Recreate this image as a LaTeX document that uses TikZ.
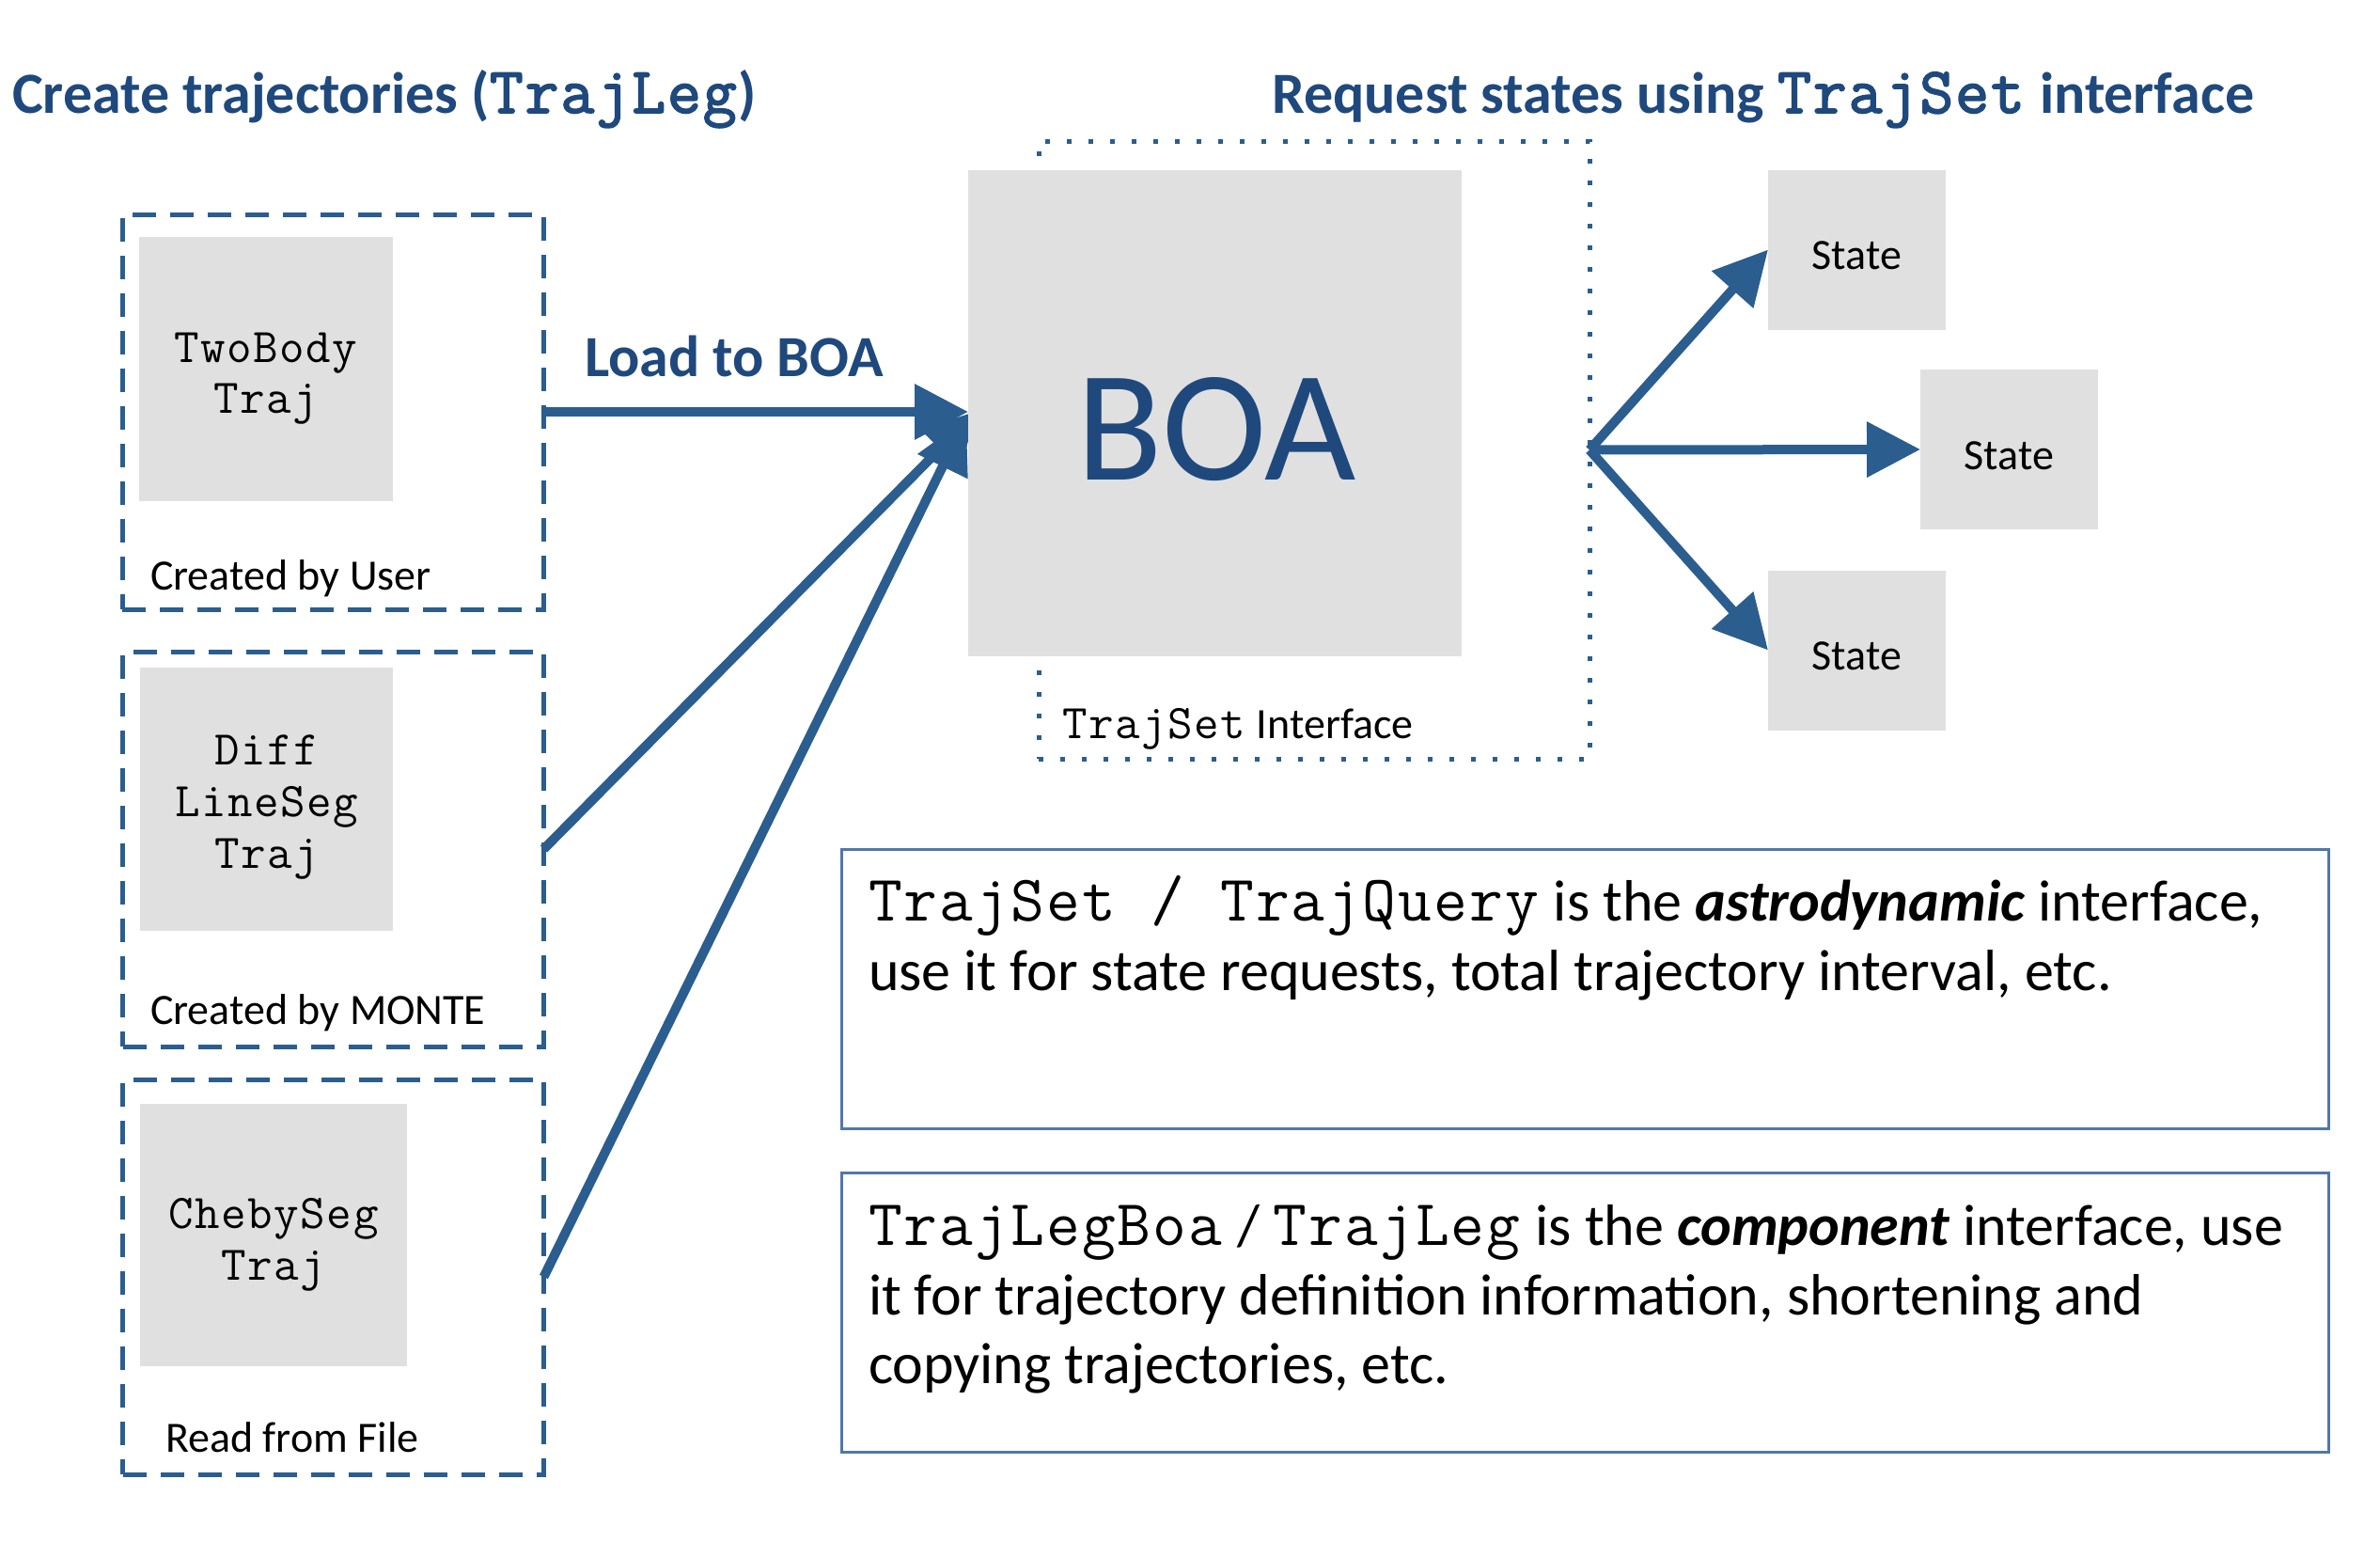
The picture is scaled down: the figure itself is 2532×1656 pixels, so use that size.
\documentclass[tikz,border=0pt]{standalone}
\usepackage{fontspec}
\setmainfont{Carlito}
\setmonofont{Latin Modern Mono}[Scale=1.12, LetterSpace=3, AutoFakeBold=2.5]
\usetikzlibrary{arrows.meta}
\definecolor{titleblue}{HTML}{1F497D}
\definecolor{linkblue}{HTML}{2B5D8F}
\definecolor{boxgray}{HTML}{E0E0E0}
\definecolor{frameblue}{HTML}{5077AC}
\pgfdeclarelayer{bg}
\pgfsetlayers{bg,main}
\newcommand{\fsz}[2]{\fontsize{#1}{#2}\selectfont}
\begin{document}
\begin{tikzpicture}[x=0.5pt,y=-0.5pt,
  every node/.style={inner sep=0pt, outer sep=0pt},
  dashbox/.style={draw=linkblue, line width=2.5pt, dash pattern=on 12.5pt off 7.5pt, minimum width=224pt, minimum height=210pt},
  dotbox/.style={draw=linkblue, line width=2.5pt, dash pattern=on 2.5pt off 9pt, minimum width=293pt, minimum height=328.5pt},
  graybox/.style={fill=boxgray},
  graytext/.style={anchor=base, font=\ttfamily\fsz{23}{27}},
  statebox/.style={fill=boxgray, minimum width=94.5pt, minimum height=85pt, font=\fsz{23}{27}, text height=21pt, text depth=0pt},
  textframe/.style={draw=frameblue, line width=1.5pt, minimum width=791pt, minimum height=148.5pt},
  heading/.style={anchor=base west, text=titleblue, font=\bfseries\fsz{31}{37}},
  caption/.style={anchor=base west, font=\fsz{23}{27}},
  body/.style={anchor=base west, font=\fsz{31}{37}},
  link/.style={draw=linkblue, line width=5pt, -{Triangle[length=28.5pt,width=28.5pt]}},
]
\useasboundingbox (0,0) rectangle (2532,1656);

% headings
\node[heading] (h1) at (13,120) {Create trajectories (\texttt{TrajLeg})};
\node[heading] (h2) at (1353,120) {Request states using \texttt{TrajSet} interface};
\node[heading] (load) at (622,400) {Load to BOA};

% left dashed groups
\node[dashbox] (box1) at (354,438) {};
\node[dashbox] (box2) at (354.5,903) {};
\node[dashbox] (box3) at (354.5,1358) {};
\node[graybox, minimum width=135pt, minimum height=140.5pt] (g1) at (283,392.5) {};
\node[graybox, minimum width=134.5pt, minimum height=140pt] (g2) at (283.5,850) {};
\node[graybox, minimum width=142pt, minimum height=139.5pt] (g3) at (291,1313.5) {};
\node[graytext] (g1a) at (283,385) {TwoBody};
\node[graytext] (g1b) at (283,439) {Traj};
\node[graytext] (g2a) at (283.5,813) {Diff};
\node[graytext] (g2b) at (283.5,868) {LineSeg};
\node[graytext] (g2c) at (283.5,923) {Traj};
\node[graytext] (g3a) at (291,1306) {ChebySeg};
\node[graytext] (g3b) at (291,1361) {Traj};
\node[caption] (c1) at (160,627) {Created by User};
\node[caption] (c2) at (160,1089) {Created by MONTE};
\node[caption] (c3) at (176,1544) {Read from File};

% BOA
\node[dotbox] (dotted) at (1398,478.5) {};
\node[fill=boxgray, minimum width=262.5pt, minimum height=258.5pt] (boa) at (1292.5,439.5) {};
\node[text=titleblue, font=\fsz{84}{90}] (boalabel) at (1294,457) {BOA};
\node[caption] (tsi) at (1130,785) {\texttt{TrajSet} Interface};

% states
\node[statebox] (s1) at (1975.5,265.5) {State};
\node[statebox] (s2) at (2137.5,478) {State};
\node[statebox] (s3) at (1975.5,691.5) {State};

% arrows into BOA
\coordinate (in2) at (1040,437);
\coordinate (in3) at (1028,445);
\begin{pgfonlayer}{bg}
\draw[link] (box1.east) -- (box1.east -| boa.west);
\draw[link] (box2.east) -- (in2);
\draw[link] (box3.east) -- (in3);
\end{pgfonlayer}

% arrows to states
\draw[link] (dotted.east) -- (s1.west);
\draw[link] (dotted.east) -- (s2.west);
\draw[link] (dotted.east) -- (s3.west);

% text frames
\node[textframe] (t1) at (1686,1051.5) {};
\node[textframe] (t2) at (1686,1395.5) {};
\node[body] (t1a) at (924,979) {\texttt{TrajSet / TrajQuery} is the \textbf{\textit{astrodynamic}} interface,};
\node[body] (t1b) at (924,1053) {use it for state requests, total trajectory interval, etc.};
\node[body] (t2a) at (924,1324) {\texttt{TrajLegBoa} / \texttt{TrajLeg} is the \textbf{\textit{component}} interface, use};
\node[body] (t2b) at (924,1398) {it for trajectory definition information, shortening and};
\node[body] (t2c) at (924,1471) {copying trajectories, etc.};
\end{tikzpicture}
\end{document}
